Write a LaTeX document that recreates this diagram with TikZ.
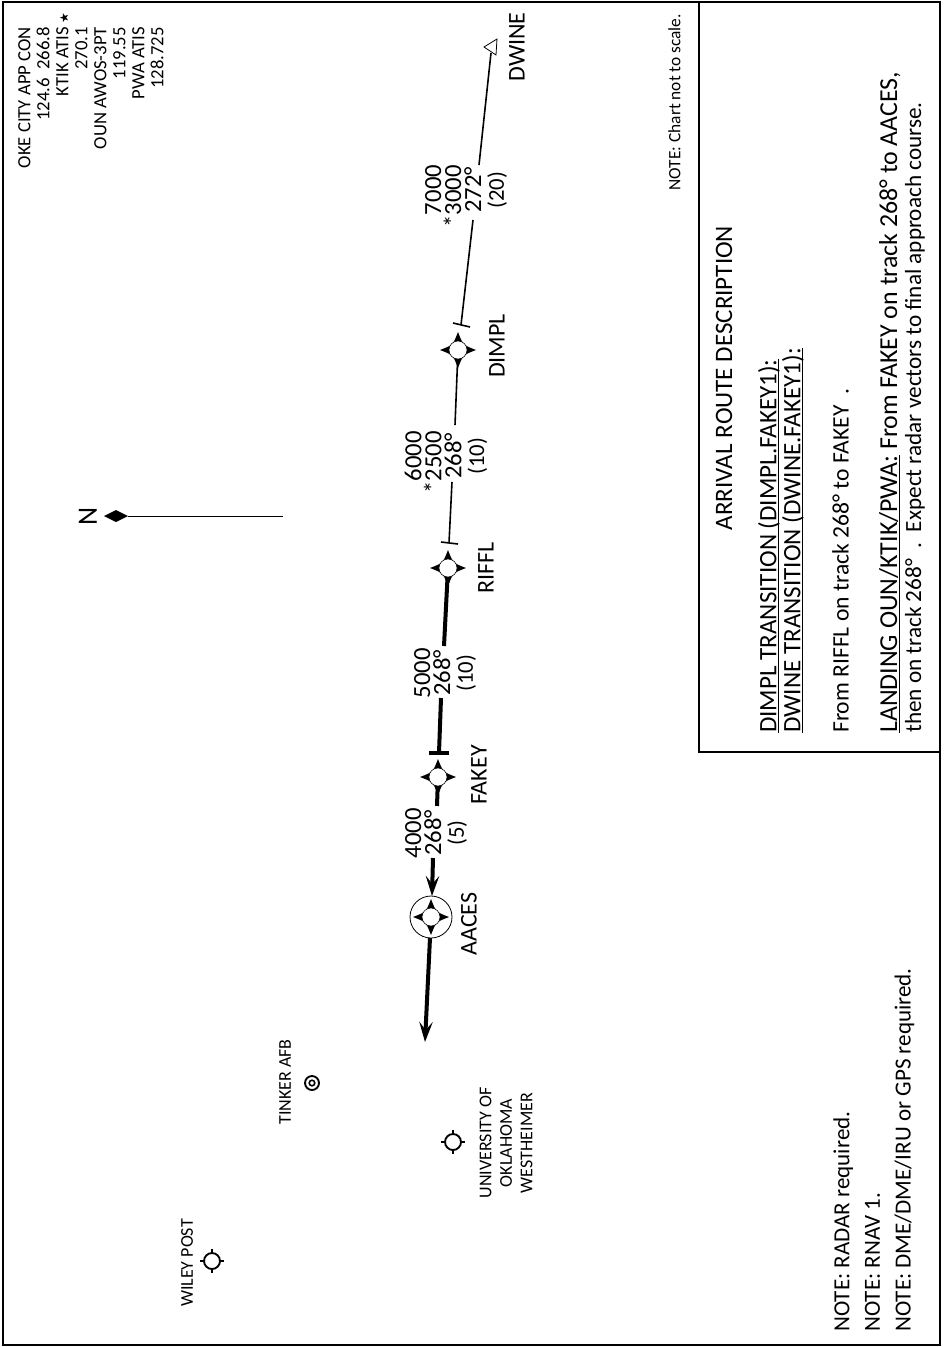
\documentclass[tikz,border=0pt]{standalone}
\usepackage{fontspec}
\setmainfont{Carlito}
\newfontfamily\symfont{DejaVu Sans}
\usetikzlibrary{arrows.meta}
\newcommand{\chartul}[1]{\underline{\smash{#1}}}
\def\fixstar(#1){
	\begin{scope}[shift={(#1)}]
		\fill[black] (18, 0) .. controls (5, 5) and (5, 5) .. (0, 18) .. controls (-5, 5) and (-5, 5) .. (-18, 0) .. controls (-5, -5) and (-5, -5) .. (0, -18) .. controls (5, -5) and (5, -5) .. cycle;
		\draw[fill=white, line width=0.4pt] (0, 0) circle (9);
	\end{scope}
}
\def\airportmark(#1){
	\draw[line width=1.4pt, fill=white] (#1) circle (8);
	\draw[line width=1.2pt] ([xshift=6pt]#1) -- ([xshift=9pt]#1) ([xshift=-6pt]#1) -- ([xshift=-9pt]#1) ([yshift=6pt]#1) -- ([yshift=9pt]#1) ([yshift=-6pt]#1) -- ([yshift=-9pt]#1);
}
\tikzset{
	chart/.style={rotate=90, inner sep=0pt},
	smalltxt/.style={chart, font=\fontsize{14}{14.25}\selectfont},
	placetxt/.style={chart, font=\fontsize{13.5}{15.4}\selectfont},
	fixtxt/.style={chart, font=\fontsize{18}{15}\selectfont},
	routetxt/.style={chart, align=center, font=\fontsize{18.5}{15}\selectfont},
	desctxt/.style={chart, font=\fontsize{18.8}{18}\selectfont},
	thinleg/.style={line width=1.2pt},
	boldleg/.style={line width=3pt},
	legtip/.style={-{Stealth[length=15pt, width=10pt, inset=6pt]}},
}

\begin{document}
\begin{tikzpicture}[x=0.75pt, y=-0.75pt]
	%%%%% START %%%%%
	\useasboundingbox (0, 0) rectangle (947, 1347);

	% frame and description box
	\draw[line width=1.6pt] (3, 2) rectangle (940, 1345);
	\draw[line width=1.6pt] (699, 2) rectangle (940, 752);

	% route points
	\coordinate (AACES) at (431, 917);
	\coordinate (FAKEY) at (438, 777);
	\coordinate (RIFFL) at (448, 568);
	\coordinate (DIMPL) at (458, 350);
	\coordinate (DWINE) at (491, 53);

	\coordinate (outtip) at (425, 1042);
	\coordinate (aaceslbl) at (433, 858);
	\coordinate (aacesarr) at (432, 896);
	\coordinate (fakeylbl) at (437, 806);
	\coordinate (fakeytop) at (439, 753);
	\coordinate (riffllow) at (441, 698);
	\coordinate (rifflmid) at (444, 646);
	\coordinate (riffltop) at (449, 543);
	\coordinate (rifflend) at (452, 482);
	\coordinate (dimplend) at (455, 425);
	\coordinate (dimpltop) at (461, 325);
	\coordinate (dwinelow) at (473, 220);
	\coordinate (dwineend) at (479, 165);

	% route legs
	\draw[boldleg, legtip] (AACES) -- (outtip);
	\draw[boldleg, legtip] (aaceslbl) -- (aacesarr);
	\draw[boldleg] (FAKEY) -- (fakeylbl);
	\draw[boldleg] (fakeytop) -- (riffllow);
	\draw[boldleg] (rifflmid) -- (RIFFL);
	\draw[thinleg] (riffltop) -- (rifflend);
	\draw[thinleg] (dimplend) -- (DIMPL);
	\draw[thinleg] (dimpltop) -- (dwinelow);
	\draw[thinleg] (dwineend) -- (DWINE);

	% ticks
	\coordinate (ftickA) at (429, 753);
	\coordinate (ftickB) at (449, 753);
	\coordinate (rtickA) at (441, 542);
	\coordinate (rtickB) at (458, 544);
	\coordinate (dtickA) at (453, 323);
	\coordinate (dtickB) at (470, 327);
	\draw[line width=2.4pt] (ftickA) -- (ftickB);
	\draw[thinleg] (rtickA) -- (rtickB);
	\draw[thinleg] (dtickA) -- (dtickB);

	% fixes
	\draw[fill=white, line width=0.6pt] (AACES) circle (21);
	\fixstar(AACES)
	\fixstar(FAKEY)
	\fixstar(RIFFL)
	\fixstar(DIMPL)
	\draw[fill=white, line width=0.6pt] (484, 47) -- (497, 39) -- (496, 55) -- cycle;

	\node[fixtxt] (aacesname) at (469, 924) {AACES};
	\node[fixtxt] (fakeyname) at (479, 775) {FAKEY};
	\node[fixtxt] (rifflname) at (486, 568) {RIFFL};
	\node[fixtxt] (dimplname) at (497, 346) {DIMPL};
	\node[fixtxt] (dwinename) at (517, 47) {DWINE};

	% leg data
	\node[routetxt] (legaaces) at (436, 833) {4000\\268\textdegree\\[2pt]{\fontsize{17}{15}\selectfont (5)}};
	\node[routetxt] (legfakey) at (445, 673) {5000\\268\textdegree\\[2pt]{\fontsize{17}{15}\selectfont (10)}};
	\node[routetxt] (legriffl) at (446, 456) {6000\\\llap{*}2500\\268\textdegree\\[2pt]{\fontsize{17}{15}\selectfont (10)}};
	\node[routetxt] (legdimpl) at (466, 190) {7000\\\llap{*}3000\\272\textdegree\\[2pt]{\fontsize{17}{15}\selectfont (20)}};

	% north arrow
	\coordinate (northfoot) at (283, 516);
	\coordinate (northhead) at (128, 516);
	\draw[line width=0.6pt] (northfoot) -- (northhead);
	\fill[black] (104, 516) -- (116, 510) -- (128, 516) -- (116, 522) -- cycle;
	\node[fixtxt, font=\fontsize{21}{15}\selectfont] (northname) at (88, 516) {N};

	% airports
	\airportmark(212, 1261)
	\airportmark(453, 1142)
	\draw[line width=1.4pt] (312, 1083) circle (7);
	\draw[line width=1.2pt] (312, 1083) circle (2.8);
	\node[placetxt] (wileyname) at (187, 1263) {WILEY POST};
	\node[placetxt] (tinkername) at (285, 1082) {TINKER AFB};
	\node[placetxt, align=center] (ouname) at (506, 1143) {UNIVERSITY OF\\OKLAHOMA\\WESTHEIMER};

	% frequencies and notes
	\node[smalltxt, align=right, anchor=north east] (freqs) at (18, 27) {OKE CITY APP CON\\124.6\ \ 266.8\\KTIK ATIS\rlap{\ {\symfont\fontsize{9}{9}\selectfont ★}}\\270.1\\OUN AWOS-3PT\\119.55\\PWA ATIS\hspace{3pt}\\128.725};
	\node[smalltxt, font=\fontsize{13}{14}\selectfont, anchor=north east] (scalenote) at (668, 14) {NOTE: Chart not to scale.};
	\node[chart, align=left, anchor=north west, font=\fontsize{17.3}{23}\selectfont] (notes) at (833, 1332) {NOTE: RADAR required.\\NOTE: RNAV 1.\\NOTE: DME/DME/IRU or GPS required.};

	% description
	\node[desctxt] (desctitle) at (724, 378) {ARRIVAL ROUTE DESCRIPTION};
	\node[desctxt, align=left, anchor=north west] (desctrans) at (776, 733) {\chartul{DIMPL TRANSITION (DIMPL.FAKEY1):}\\\chartul{DWINE TRANSITION (DWINE.FAKEY1):}};
	\node[desctxt, font=\fontsize{17.7}{18}\selectfont, anchor=north west] (descriffl) at (832, 733) {From RIFFL on track 268\textdegree{} to FAKEY\ \ .};
	\node[desctxt, align=left, anchor=north west] (descland) at (879, 733) {\fontsize{19.4}{18}\selectfont\chartul{LANDING OUN/KTIK/PWA:} From FAKEY on track 268\textdegree{} to AACES,\\{\fontsize{17.4}{18}\selectfont then on track 268\textdegree\ \ .\ \ Expect radar vectors to final approach course.}};

	%%%%% END %%%%%
\end{tikzpicture}
\end{document}
